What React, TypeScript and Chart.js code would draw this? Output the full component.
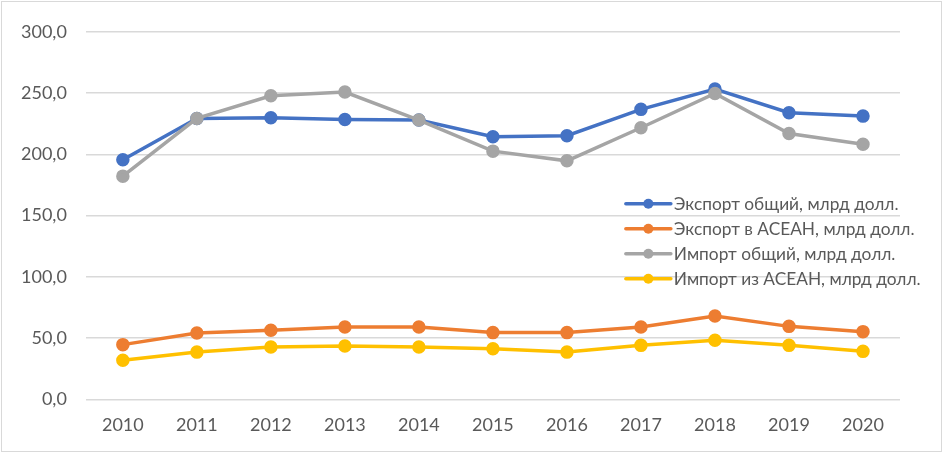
import React, { useEffect, useRef } from "react";
import { Chart, registerables } from "chart.js";

Chart.register(...registerables);

const years = ["2010", "2011", "2012", "2013", "2014", "2015", "2016", "2017", "2018", "2019", "2020"];
const exportTotal = [195.5, 229.3, 229.8, 228.5, 228.0, 214.3, 215.2, 236.7, 253.3, 234.0, 231.2];
const exportAsean = [44.7, 54.2, 56.4, 59.1, 59.1, 54.5, 54.5, 59.1, 68.1, 59.6, 55.3];
const importTotal = [182.2, 229.3, 247.8, 250.8, 228.0, 202.6, 194.7, 221.7, 249.7, 217.0, 208.3];
const importAsean = [31.9, 38.6, 42.7, 43.6, 42.7, 41.4, 38.6, 44.1, 48.2, 44.1, 39.2];
const seriesNames = [
  "Экспорт общий, млрд долл.",
  "Экспорт в АСЕАН, млрд долл.",
  "Импорт общий, млрд долл.",
  "Импорт из АСЕАН, млрд долл.",
];
const seriesColors = ["#4472C4", "#ED7D31", "#A5A5A5", "#FFC000"];
const yMin = 0;
const yMax = 300;
const yStep = 50;

const FONT = "Lato, 'Noto Sans', sans-serif";
const TEXT = "#595959";

const insideLegend = {
  id: "insideLegend",
  afterDatasetsDraw(chart: any) {
    const { ctx, chartArea } = chart;
    const x0 = chartArea.left + 540;
    const y0 = chartArea.top + 172;
    const rowH = 25;
    ctx.save();
    ctx.font = `17.3px ${FONT}`;
    ctx.textBaseline = "middle";
    ctx.textAlign = "left";
    chart.data.datasets.forEach((ds: any, i: number) => {
      const y = y0 + i * rowH;
      ctx.strokeStyle = ds.borderColor;
      ctx.lineWidth = 3.5;
      ctx.lineCap = "round";
      ctx.beginPath();
      ctx.moveTo(x0, y);
      ctx.lineTo(x0 + 45, y);
      ctx.stroke();
      ctx.fillStyle = ds.borderColor;
      ctx.beginPath();
      ctx.arc(x0 + 22.5, y, 5, 0, Math.PI * 2);
      ctx.fill();
      ctx.fillStyle = TEXT;
      ctx.fillText(ds.label, x0 + 48, y + 1);
    });
    ctx.restore();
  },
};

export default function App() {
  const ref = useRef<HTMLCanvasElement>(null);
  useEffect(() => {
    document.body.style.margin = "0";
    const values = [exportTotal, exportAsean, importTotal, importAsean];
    const chart = new Chart(ref.current!, {
      type: "line",
      data: {
        labels: years,
        datasets: values.map((v, i) => ({
          label: seriesNames[i],
          data: v,
          borderColor: seriesColors[i],
          backgroundColor: seriesColors[i],
          pointBackgroundColor: seriesColors[i],
          pointBorderColor: seriesColors[i],
          borderWidth: 3.5,
          pointRadius: 5,
          pointHoverRadius: 5,
          tension: 0,
          fill: false,
          order: 4 - i,
        })),
      },
      options: {
        animation: false,
        responsive: true,
        maintainAspectRatio: false,
        layout: { padding: { top: 19, right: 41, bottom: 0, left: 0 } },
        plugins: { legend: { display: false }, tooltip: { enabled: false } },
        scales: {
          x: {
            offset: true,
            grid: { display: false, drawTicks: false },
            border: { display: false },
            ticks: { color: TEXT, font: { family: FONT, size: 18 }, padding: 15 },
          },
          y: {
            min: yMin,
            max: yMax,
            grid: { color: "#D9D9D9", lineWidth: 1.5, drawTicks: false },
            border: { display: false },
            ticks: {
              stepSize: yStep,
              color: TEXT,
              font: { family: FONT, size: 18 },
              padding: 19,
              callback: (v: any) => Number(v).toFixed(1).replace(".", ","),
            },
          },
        },
      },
      plugins: [insideLegend],
    });
    return () => chart.destroy();
  }, []);
  return (
    <div
      style={{
        position: "relative",
        marginLeft: 1,
        marginTop: 1,
        width: 941,
        height: 451,
        boxSizing: "border-box",
        border: "1px solid #D9D9D9",
        background: "#fff",
      }}
    >
      <canvas ref={ref} />
    </div>
  );
}
